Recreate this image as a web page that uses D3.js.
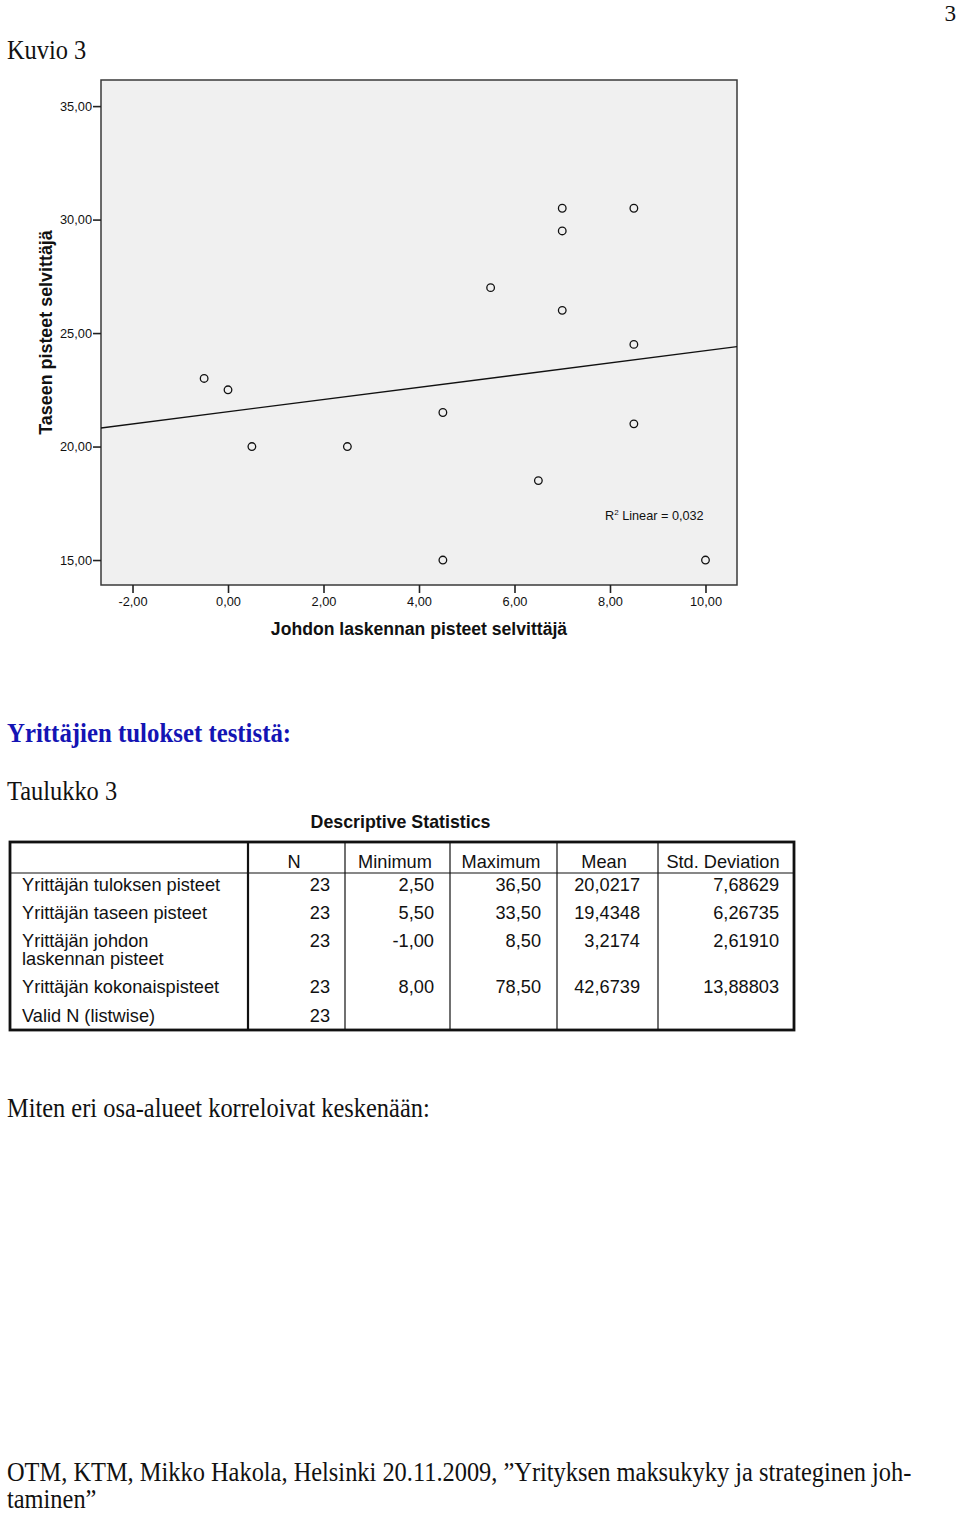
<!DOCTYPE html>
<html>
<head>
<meta charset="utf-8">
<script src="https://cdn.jsdelivr.net/npm/d3@7"></script>
<style>
  html, body { margin: 0; padding: 0; background: #fff; }
  svg { display: block; }
</style>
</head>
<body>
<svg id="page" width="960" height="1513"></svg>
<script>
// ---------------- DATA ----------------
const xValues = [-0.5, 0, 0.5, 2.5, 4.5, 5.5, 6.5, 7, 7, 7, 8.5, 8.5, 8.5, 4.5, 10];
const yValues = [23, 22.5, 20, 20, 21.5, 27, 18.5, 30.5, 29.5, 26, 30.5, 24.5, 21, 15, 15];
const xTicks = [-2, 0, 2, 4, 6, 8, 10];
const yTicks = [15, 20, 25, 30, 35];
const xTitle = "Johdon laskennan pisteet selvittäjä";
const yTitle = "Taseen pisteet selvittäjä";

const tableTitle = "Descriptive Statistics";
const tableHeaders = ["", "N", "Minimum", "Maximum", "Mean", "Std. Deviation"];
const rowLabels = [["Yrittäjän tuloksen pisteet"], ["Yrittäjän taseen pisteet"], ["Yrittäjän johdon", "laskennan pisteet"], ["Yrittäjän kokonaispisteet"], ["Valid N (listwise)"]];
const colN = ["23", "23", "23", "23", "23"];
const colMin = ["2,50", "5,50", "-1,00", "8,00", ""];
const colMax = ["36,50", "33,50", "8,50", "78,50", ""];
const colMean = ["20,0217", "19,4348", "3,2174", "42,6739", ""];
const colStd = ["7,68629", "6,26735", "2,61910", "13,88803", ""];

const pageTexts = {
  pageNo: "3",
  figure: "Kuvio 3",
  heading: "Yrittäjien tulokset testistä:",
  tableCaption: "Taulukko 3",
  question: "Miten eri osa-alueet korreloivat keskenään:",
  footer1: "OTM, KTM, Mikko Hakola, Helsinki 20.11.2009, ”Yrityksen maksukyky ja strateginen joh-",
  footer2: "taminen”"
};

// ---------------- DRAW ----------------
const svg = d3.select("#page");
svg.append("rect").attr("width", 960).attr("height", 1513).attr("fill", "#fff");

const serif = "'Liberation Serif', 'DejaVu Serif', serif";
const sans = "'Liberation Sans', Arial, sans-serif";
const vStretch = 1.08;

function serifText(txt, x, y, size, opts = {}) {
  const t = svg.append("text")
    .attr("transform", `translate(${x},${y}) scale(1,${opts.stretch || vStretch})`)
    .attr("font-family", serif)
    .attr("font-size", size)
    .attr("fill", opts.fill || "#111")
    .attr("font-weight", opts.weight || "normal")
    .attr("text-anchor", opts.anchor || "start")
    .text(txt);
  return t;
}

// fit body serif size from the long footer line
const probe = svg.append("text").attr("font-family", serif).attr("font-size", 22).text(pageTexts.footer1);
const probeW = probe.node().getComputedTextLength();
probe.remove();
const bodySize = 22 * 905 / probeW;

serifText(pageTexts.pageNo, 956, 21, bodySize * 0.95, { anchor: "end", stretch: 1 });
serifText(pageTexts.figure, 7, 59, bodySize);
const head = serifText(pageTexts.heading, 7, 742, bodySize, { weight: "bold", fill: "#1414b4" });
{
  const w = head.node().getComputedTextLength();
  head.attr("font-size", bodySize * 284 / w);
}
serifText(pageTexts.tableCaption, 7, 800, bodySize);
serifText(pageTexts.question, 7, 1117, bodySize);
serifText(pageTexts.footer1, 7, 1481, bodySize);
serifText(pageTexts.footer2, 7, 1508, bodySize);

// ---------------- SCATTER ----------------
const plot = { left: 101, right: 737, top: 80, bottom: 585 };
const x = d3.scaleLinear().domain([-2.66, 10.66]).range([plot.left, plot.right]);
const y = d3.scaleLinear().domain([13.9, 36.15]).range([plot.bottom, plot.top]);
const fmt = v => v.toFixed(2).replace(".", ",");

const chart = svg.append("g");
chart.append("rect")
  .attr("x", plot.left).attr("y", plot.top)
  .attr("width", plot.right - plot.left).attr("height", plot.bottom - plot.top)
  .attr("fill", "#f0f0f0").attr("stroke", "#3a3a3a").attr("stroke-width", 1.5);

svg.append("clipPath").attr("id", "plotclip").append("rect")
  .attr("x", plot.left).attr("y", plot.top)
  .attr("width", plot.right - plot.left).attr("height", plot.bottom - plot.top);

const xAxis = d3.axisBottom(x).tickValues(xTicks).tickFormat(fmt).tickSize(8).tickSizeOuter(0).tickPadding(4);
const gx = chart.append("g").attr("transform", `translate(0,${plot.bottom})`).call(xAxis);
gx.select(".domain").remove();
gx.selectAll("line").attr("stroke", "#222").attr("stroke-width", 1.6);
gx.selectAll("text").attr("font-family", sans).attr("font-size", 12.8).attr("fill", "#111");

const yAxis = d3.axisLeft(y).tickValues(yTicks).tickFormat(fmt).tickSize(8).tickSizeOuter(0).tickPadding(1);
const gy = chart.append("g").attr("transform", `translate(${plot.left},0)`).call(yAxis);
gy.select(".domain").remove();
gy.selectAll("line").attr("stroke", "#222").attr("stroke-width", 1.6);
gy.selectAll("text").attr("font-family", sans).attr("font-size", 12.8).attr("fill", "#111");

// regression line from data
const n = xValues.length;
const mx = d3.mean(xValues), my = d3.mean(yValues);
let sxy = 0, sxx = 0, syy = 0;
for (let i = 0; i < n; i++) {
  sxy += (xValues[i] - mx) * (yValues[i] - my);
  sxx += (xValues[i] - mx) ** 2;
  syy += (yValues[i] - my) ** 2;
}
const slope = sxy / sxx, intercept = my - slope * mx;
const r2 = (sxy * sxy) / (sxx * syy);
const [d0, d1] = x.domain();
chart.append("line")
  .attr("clip-path", "url(#plotclip)")
  .attr("x1", x(d0)).attr("y1", y(intercept + slope * d0))
  .attr("x2", x(d1)).attr("y2", y(intercept + slope * d1))
  .attr("stroke", "#111").attr("stroke-width", 1.3);

chart.append("g").selectAll("circle")
  .data(xValues.map((v, i) => [v, yValues[i]]))
  .join("circle")
  .attr("cx", d => x(d[0])).attr("cy", d => y(d[1])).attr("r", 3.8)
  .attr("fill", "none").attr("stroke", "#111").attr("stroke-width", 1.3);

const r2t = chart.append("text").attr("x", 605).attr("y", 520)
  .attr("font-family", sans).attr("font-size", 12.7).attr("fill", "#111");
r2t.append("tspan").text("R");
r2t.append("tspan").attr("font-size", 8).attr("dy", -5).text("2");
r2t.append("tspan").attr("dy", 5).text(" Linear = " + r2.toFixed(3).replace(".", ","));

chart.append("text").attr("x", 419).attr("y", 635)
  .attr("text-anchor", "middle").attr("font-family", sans).attr("font-weight", "bold")
  .attr("font-size", 17.6).attr("fill", "#111").text(xTitle);
chart.append("text").attr("transform", `translate(51.5,${(plot.top + plot.bottom) / 2}) rotate(-90)`)
  .attr("text-anchor", "middle").attr("font-family", sans).attr("font-weight", "bold")
  .attr("font-size", 17.9).attr("fill", "#111").text(yTitle);

// ---------------- TABLE ----------------
const tbl = svg.append("g");
const colX = [10, 248, 345, 450, 557, 658, 794];
const tTop = 842, tHeadBottom = 873, tBottom = 1030;
const tFont = 18.2;

tbl.append("text").attr("x", 400.5).attr("y", 828).attr("text-anchor", "middle")
  .attr("font-family", sans).attr("font-weight", "bold").attr("font-size", 17.8)
  .attr("fill", "#111").text(tableTitle);

tbl.append("line").attr("x1", colX[0]).attr("x2", colX[6]).attr("y1", tHeadBottom).attr("y2", tHeadBottom)
  .attr("stroke", "#111").attr("stroke-width", 1.2);
colX.slice(2, 6).forEach(cx => tbl.append("line").attr("x1", cx).attr("x2", cx).attr("y1", tTop).attr("y2", tBottom)
  .attr("stroke", "#111").attr("stroke-width", 1.2));
tbl.append("line").attr("x1", colX[1]).attr("x2", colX[1]).attr("y1", tTop).attr("y2", tBottom)
  .attr("stroke", "#111").attr("stroke-width", 2.2);
tbl.append("rect").attr("x", colX[0]).attr("y", tTop).attr("width", colX[6] - colX[0]).attr("height", tBottom - tTop)
  .attr("fill", "none").attr("stroke", "#111").attr("stroke-width", 2.8);

const headerCenters = [0, 294, 395, 501, 604, 723];
tableHeaders.forEach((h, i) => {
  if (!h) return;
  tbl.append("text").attr("x", headerCenters[i]).attr("y", 868)
    .attr("text-anchor", "middle").attr("font-family", sans).attr("font-size", tFont)
    .attr("fill", "#111").text(h);
});

const rowY = [891, 919, 947, 993, 1022];
rowLabels.forEach((lines, r) => {
  lines.forEach((l, k) => {
    tbl.append("text").attr("x", 22).attr("y", rowY[r] + k * 18)
      .attr("font-family", sans).attr("font-size", tFont).attr("fill", "#111").text(l);
  });
});
const cols = [colN, colMin, colMax, colMean, colStd];
const rightEdges = [330, 434, 541, 640, 779];
cols.forEach((c, ci) => {
  c.forEach((v, r) => {
    if (!v) return;
    tbl.append("text").attr("x", rightEdges[ci]).attr("y", rowY[r])
      .attr("text-anchor", "end").attr("font-family", sans).attr("font-size", tFont)
      .attr("fill", "#111").text(v);
  });
});
</script>
</body>
</html>
